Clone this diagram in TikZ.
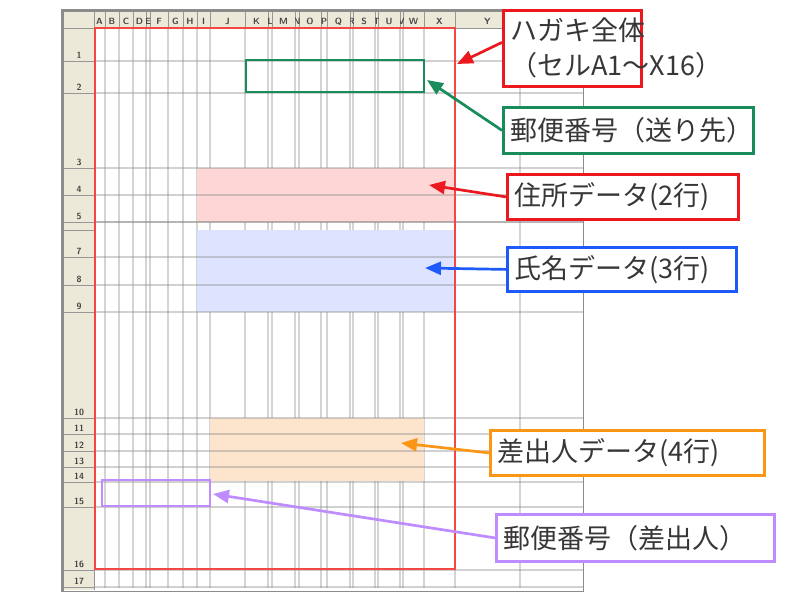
\documentclass[tikz,border=0pt]{standalone}
\usepackage{fontspec}
\setmainfont{Liberation Sans}
\newfontfamily\jpfont{Noto Sans CJK JP}
\usetikzlibrary{arrows.meta}
\definecolor{cred}{RGB}{236,24,32}
\definecolor{cgreen}{RGB}{24,140,90}
\definecolor{cblue}{RGB}{30,90,250}
\definecolor{corange}{RGB}{250,150,20}
\definecolor{cpurple}{RGB}{190,140,255}
\definecolor{fpink}{RGB}{255,214,214}
\definecolor{fblue}{RGB}{222,228,255}
\definecolor{forange}{RGB}{253,228,204}
\definecolor{gridc}{RGB}{212,212,212}
\definecolor{rowc}{RGB}{140,140,140}
\definecolor{hdrbg}{RGB}{236,233,216}
\definecolor{hdrline}{RGB}{150,150,150}
\definecolor{framec}{RGB}{140,140,140}
\definecolor{outlinec}{RGB}{245,70,70}
\definecolor{txt}{RGB}{55,55,55}
\definecolor{hdrtxt}{RGB}{70,70,70}
\begin{document}
\begin{tikzpicture}[x=1pt,y=-1pt,
  callout/.style={draw=#1, line width=2.8pt, fill=white, anchor=north west,
    inner xsep=7pt, inner ysep=0pt, text=txt,
    font=\jpfont\fontsize{27}{35}\selectfont, align=left},
  arr/.style={draw=#1, fill=#1, line width=2.7pt, -{Triangle[length=16pt,width=13pt]}},
  vgrid/.style={draw=gridc, line width=1.4pt},
  hgrid/.style={draw=rowc, line width=1.1pt, draw opacity=0.4},
  hdrsep/.style={draw=hdrline, line width=0.9pt},
  hdrlabel/.style={font=\sffamily\bfseries\fontsize{9}{9}\selectfont, text=hdrtxt, inner sep=0pt},
  target/.style={line width=2.8pt}]
\useasboundingbox (0,0) rectangle (800,600);
\fill[white] (0,0) rectangle (800,600);
% sheet body and headers
\fill[white] (94,28) rectangle (583,590);
\fill[hdrbg] (64,12) rectangle (583,28);
\fill[hdrbg] (64,28) rectangle (94,590);
% vertical grid lines
\foreach \x in {105,119,133,146,150,168,183,197,210,245,268,272,295,299,321,327,350,353,375,378,400,403,424,455,520}
  \draw[vgrid] (\x,28) -- (\x,588);
% header separators and column letters
\foreach \a/\b/\l in {94/105/A,105/119/B,119/133/C,133/146/D,146/150/E,150/168/F,168/183/G,183/197/H,197/210/I,210/245/J,245/268/K,268/272/L,272/295/M,295/299/N,299/321/O,321/327/P,327/350/Q,350/353/R,353/375/S,375/378/T,378/400/U,400/403/V,403/424/W,424/455/X,455/520/Y}{
  \draw[hdrsep] (\b,12) -- (\b,28);
  \begin{scope}
    \clip (\a,12) rectangle (\b,28);
    \node[hdrlabel, anchor=base] (col\l) at ({(\a+\b)/2},24.5) {\l};
  \end{scope}
}
% fills
\fill[fpink] (197,168) rectangle (455,222);
\fill[fblue] (197,230) rectangle (455,312);
\fill[forange] (210,418) rectangle (424,481);
% horizontal grid lines and row labels
\foreach \a/\b/\l in {28/61/1,61/93/2,93/168/3,168/195/4,195/222/5,230/257/7,257/285/8,285/312/9,312/418/10,418/434/11,434/451/12,451/467/13,467/482/14,482/507/15,507/570/16,570/587/17}{
  \draw[hgrid] (94,\b) -- (583,\b);
  \draw[hdrsep] (64,\b) -- (94,\b);
  \node[hdrlabel, anchor=base] (row\l) at (79,{\b-3}) {\l};
}
\draw[hgrid] (94,222) -- (583,222);
\draw[hdrsep] (64,222) -- (94,222);
\draw[hdrsep] (64,230) -- (94,230);
\draw[hdrsep] (64,28) -- (583,28);
\draw[hdrsep] (94,12) -- (94,590);
% frame
\draw[framec, line width=1.2pt] (63,11) rectangle (583.5,591.5);
\draw[framec, line width=3pt] (62.5,592) -- (62.5,10.5) -- (584,10.5);
% whole card outline
\draw[outlinec, line width=1.5pt] (95,28) rectangle (455,569);
% target boxes
\draw[cgreen, target] (246,60) rectangle (424,92);
\draw[cpurple, target] (102,480) rectangle (210,506);
% target points
\coordinate (t1) at (457,64);
\coordinate (t2) at (427,80);
\coordinate (t3) at (429,185);
\coordinate (t4) at (425,268);
\coordinate (t5) at (401,443);
\coordinate (t6) at (213,494);
% callouts
\node[callout=cred, text width=124pt, minimum height=76pt] (c1) at (502,9) {ハガキ全体\\（セルA1～X16）};
\node[callout=cgreen, text width=236pt, minimum height=46pt] (c2) at (502,106) {郵便番号（送り先）};
\node[callout=cred, text width=217pt, minimum height=45pt] (c3) at (506,173) {住所データ(2行)};
\node[callout=cblue, text width=215pt, minimum height=44pt] (c4) at (506,246) {氏名データ(3行)};
\node[callout=corange, text width=260pt, minimum height=45pt] (c5) at (489,429) {差出人データ(4行)};
\node[callout=cpurple, text width=264pt, minimum height=47pt] (c6) at (495,513) {郵便番号（差出人）};
% arrows
\draw[arr=cred] ([yshift=6pt]c1.west) -- (t1);
\draw[arr=cgreen] (c2.west) -- (t2);
\draw[arr=cred] (c3.west) -- (t3);
\draw[arr=cblue] (c4.west) -- (t4);
\draw[arr=corange] (c5.west) -- (t5);
\draw[arr=cpurple] (c6.west) -- (t6);
\end{tikzpicture}
\end{document}
